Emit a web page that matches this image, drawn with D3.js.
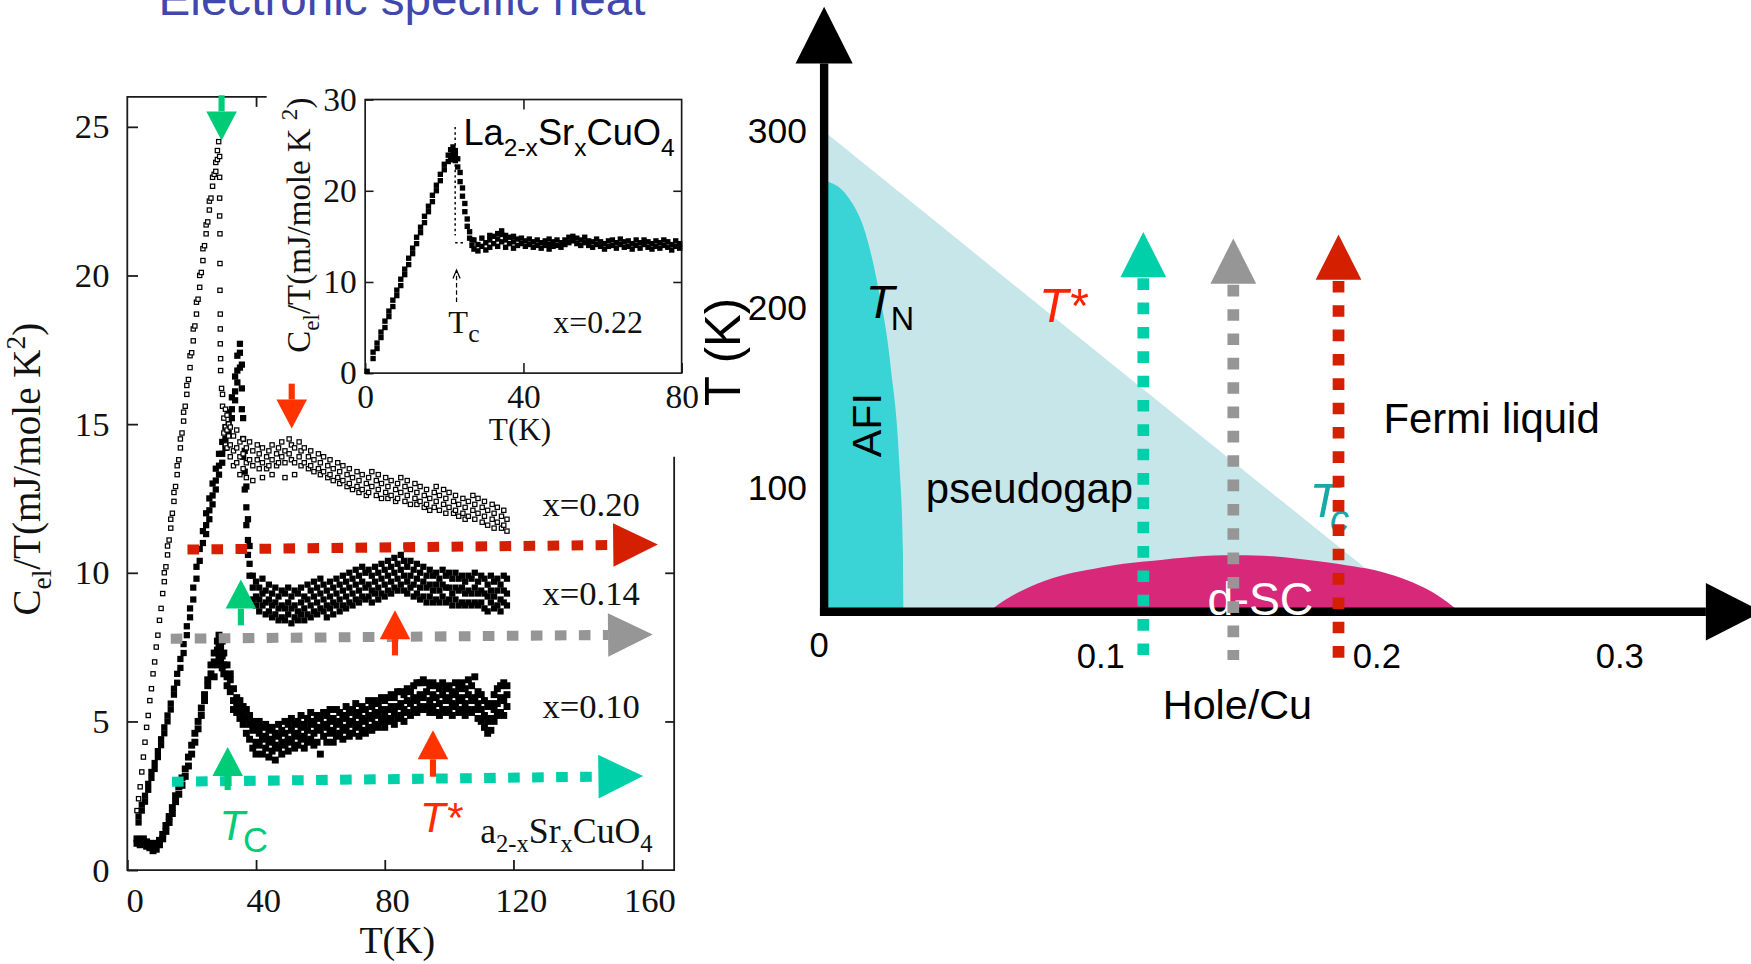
<!DOCTYPE html>
<html>
<head>
<meta charset="utf-8">
<script src="https://cdn.jsdelivr.net/npm/d3@7/dist/d3.min.js"></script>
<style>
  html, body { margin: 0; padding: 0; background: #fff; overflow: hidden; }
  svg { display: block; }
</style>
</head>
<body>
<svg id="fig"></svg>
<script>
// ---------------------------------------------------------------
// Data: electronic specific heat of La2-xSrxCuO4 and phase diagram
// Rows are [T (K), Cel/T values measured at that T ...]
// ---------------------------------------------------------------
const titleText = "Electronic specific heat";

const mainTicksT = [0, 40, 80, 120, 160];
const mainTicksC = [0, 5, 10, 15, 20, 25];
const insetTicksT = [0, 40, 80];
const insetTicksC = [0, 10, 20, 30];
const phaseTicksP = [0, 0.1, 0.2, 0.3];
const phaseTicksT = [100, 200, 300];

const dopingLabels = ["x=0.20", "x=0.14", "x=0.10"];
const dopingLabelC = [11.9, 8.9, 5.1];

// x = 0.10 (filled squares)
const x010Rows = [
[3,1.05,0.9],[4,1.0,0.85],[5,0.95,1.05],[6,0.8,0.95],[7,0.75,0.9],[8,0.65,0.8],[9,0.7,0.9],[10,0.85,1.0],
[11,1.05,1.2],[12,1.3,1.5],[13,1.6,1.8],[14,1.9,2.1],[15,2.3,2.5],[16,2.55,2.8],[17,2.85,3.1],[18,3.15,3.4],
[19,3.5,3.8],[20,3.9,4.2],[21,4.3,4.6],[22,4.75,5.0],[23,5.2,5.45],[24,5.7,5.9],[25,6.2,6.4],[26,6.6,6.9],
[27,7.0,7.3,6.5],[28,7.4,7.7,6.9],[28.5,7.6,7.9,7.2],[29,7.8,7.5,7.0],[29.5,7.7,7.2,6.8],[30,7.3,6.9,6.6],
[31,6.9,6.5,6.2],[32,6.4,6.0,6.6],[33,6.1,5.7,5.4],[34,5.8,5.3,5.6],[35,5.5,5.1,5.7],[36,5.3,4.9,5.5],
[37,5.1,4.6,5.4],[38,4.9,4.4,5.2],[39,4.7,4.1,5.0],[40,4.8,4.3,3.9],[41,4.6,4.2,5.0],[42,4.4,3.9,4.8],
[43,4.5,4.1,4.9],[44,4.3,3.8,4.7],[45,4.4,4.0,4.8],[46,4.2,3.7,4.6],[47,4.5,4.1,4.9],[48,4.3,3.9,4.7],
[49,4.6,4.2,5.0],[50,4.4,4.0,4.9],[51,4.7,4.3,5.1],[52,4.5,4.1,4.9],[53,4.6,4.2,5.0],[54,4.8,4.4,5.2],
[55,4.5,4.1,4.9],[56,4.7,4.3,5.1],[57,4.9,4.4,5.3],[58,4.6,4.2,5.0],[59,4.8,4.3,5.2],[60,4.7,3.9,5.1],
[61,4.9,4.5,5.3],[62,4.8,4.3,5.2],[63,5.0,4.6,5.4],[64,4.7,4.3,5.1],[65,4.9,4.5,5.4],[66,5.0,4.6,5.3],
[67,4.8,4.4,5.2],[68,5.1,4.7,5.5],[69,4.9,4.5,5.3],[70,5.0,4.6,5.4],[71,5.2,4.8,5.6],[72,4.9,4.5,5.3],
[73,5.1,4.7,5.5],[74,5.0,4.6,5.4],[75,5.2,4.8,5.7],[76,5.1,4.7,5.5],[77,5.3,4.9,5.7],[78,5.2,4.8,5.6],
[79,5.4,5.0,5.8],[80,5.2,4.8,5.7],[81,5.4,5.0,5.8],[82,5.5,5.1,5.9],[83,5.3,4.9,5.8],[84,5.5,5.1,6.0],
[85,5.6,5.2,6.0],[86,5.4,5.0,5.9],[87,5.7,5.3,6.1],[88,5.6,5.2,6.0],[89,5.8,5.4,6.2],[90,5.7,5.3,6.3],
[91,5.9,5.5,6.3],[92,5.8,5.4,6.4],[93,6.0,5.5,6.3],[94,5.7,5.3,6.2],[95,5.9,5.5,6.3],[96,5.8,5.3,6.2],
[97,5.6,5.2,6.1],[98,5.9,5.4,6.3],[99,5.7,5.3,6.1],[100,5.8,5.4,6.2],[101,5.6,5.2,6.0],[102,5.9,5.5,6.3],
[103,5.7,5.3,6.1],[104,5.8,5.4,6.3],[105,5.6,5.2,6.1],[106,5.9,5.4,6.4],[107,5.7,5.3,6.2],[108,5.8,5.4,6.5],
[109,5.6,5.1,6.0],[110,5.4,5.0,5.9],[111,5.2,4.8,5.7],[112,5.0,4.6,5.5],[113,5.1,4.7,5.6],[114,5.4,5.0,5.9],
[115,5.6,5.2,6.1],[116,5.8,5.3,6.2],[117,5.7,5.2,6.3],[118,5.9,5.5,6.2]
];

// x = 0.14 (filled squares)
const x014Rows = [
[3.5,1.6,1.8],[4.5,2.0,2.2],[5.5,2.3,2.5],[6.5,2.7,2.9],[7.5,3.1,3.3],[8.5,3.4,3.6],[9.5,3.8,4.0],
[10.5,4.2,4.4],[11.5,4.6,4.8],[12.5,5.0,5.2],[13.5,5.4,5.6],[14.5,5.9,6.1],[15.5,6.3,6.6],[16.5,6.8,7.1],
[17.5,7.3,7.6],[18.5,7.9,8.2],[19.5,8.5,8.8],[20.5,9.1,9.5],[21.5,9.8,10.2],[22.5,10.4,10.8],[23.5,11.0,11.4],
[24.5,11.6,12.0,11.3],[25.5,12.1,12.5,11.8],[26.5,12.6,13.0,12.3],[27.5,13.1,13.5,12.8],[28.5,13.6,14.0,13.3],
[29.5,14.0,14.4,13.7],[30.5,14.5,14.9,14.2],[31.5,15.0,15.4,14.7],[32.5,15.5,15.9,15.2],[33.5,16.1,16.6,15.8],
[34.2,16.8,17.3,16.4],[35,17.4,17.7,16.9],[35.6,17.0,16.2,15.5],[36.0,15.2,14.5,13.9],[36.5,14.1,13.4,12.8],
[37.0,12.9,12.2,11.6],[37.5,11.8,11.1,10.6],[38.0,10.9,10.3,9.9],
[39,9.9,9.5,9.1],[40,9.7,9.2,8.9],[41,9.5,9.1,8.7],[42,9.8,9.3,8.9],[43,9.4,9.0,8.6],[44,9.6,9.1,8.7],
[45,9.3,8.9,8.5],[46,9.5,9.0,8.6],[47,9.2,8.8,8.4],[48,9.4,8.9,8.5],[49,9.3,8.8,8.4],[50,9.5,9.0,8.6],
[51,9.2,8.8,8.3],[52,9.4,8.9,8.5],[53,9.3,8.7,8.4],[54,9.5,9.0,8.6],[55,9.2,8.8,8.4],[56,9.6,9.1,8.6],
[57,9.4,8.9,8.5],[58,9.7,9.2,8.7],[59,9.5,9.0,8.6],[60,9.8,9.3,8.8],[61,9.6,9.1,8.7],[62,9.4,8.9,8.5],
[63,9.7,9.2,8.8],[64,9.5,9.0,8.6],[65,9.8,9.3,8.9],[66,9.6,9.1,8.7],[67,9.9,9.4,8.9],[68,9.7,9.2,8.8],
[69,10.0,9.5,9.0],[70,9.8,9.3,8.9],[71,10.1,9.6,9.1],[72,9.9,9.4,9.0],[73,10.2,9.7,9.2],[74,10.0,9.5,9.1],
[75,10.1,9.6,9.2],[76,9.9,9.4,9.0],[77,10.2,9.7,9.3],[78,10.0,9.5,9.1],[79,10.3,9.8,9.3],[80,10.1,9.6,9.2],
[81,10.4,9.9,9.4],[82,10.2,9.7,9.3],[83,10.5,10.0,9.5],[84,10.3,9.8,9.4],[85,10.6,10.1,9.6],[86,10.4,9.9,9.4],
[86.8,10.9],[87,10.2,9.7,9.3],[88,10.4,9.9,9.5],[89,10.1,9.6,9.2],[90,10.3,9.8,9.3],[91,10.0,9.5,9.1],
[92,10.2,9.7,9.2],[93,9.9,9.5,9.0],[94,10.1,9.6,9.2],[95,9.9,9.4,9.0],[96,10.0,9.6,9.1],[97,9.8,9.4,9.0],
[98,10.1,9.6,9.2],[99,9.9,9.5,9.0],[100,10.0,9.5,9.1],[101,9.8,9.3,8.9],[102,10.0,9.5,9.1],[103,9.8,9.4,8.9],
[104,9.9,9.5,9.0],[105,9.7,9.3,8.9],[106,9.9,9.4,9.0],[107,9.8,9.3,8.9],[108,10.0,9.5,9.0],[109,9.7,9.3,8.9],
[110,9.9,9.4,9.0],[111,9.8,9.3,8.8],[112,9.6,9.2,8.7],[113,9.9,9.4,9.0],[114,9.7,9.2,8.8],[115,9.8,9.4,8.9],
[116,9.6,9.1,8.7],[117,9.9,9.4,9.0],[118,9.8,9.3,8.9]
];

// x = 0.20 (open squares)
const x020Rows = [
[3,2.0],[3.5,2.4],[4,2.8],[4.5,3.3],[5,3.8],[5.5,4.3],[6,4.8],[6.5,5.2],[7,5.7],[7.5,6.1],[8,6.6],[8.5,7.0],
[9,7.5],[9.5,7.9],[10,8.4],[10.5,8.8],[11,9.3],[11.5,9.7,10.0],[12,10.2],[12.5,10.6,10.9],[13,11.1],
[13.5,11.5,11.8],[14,12.0],[14.5,12.4,12.7],[15,12.9],[15.5,13.3,13.6],[16,13.8],[16.5,14.2,14.5],[17,14.7],
[17.5,15.1,15.4],[18,15.6],[18.5,16.0,16.3],[19,16.5],[19.5,16.9,17.3],[20,17.4],[20.5,17.8,18.2],[21,18.3],
[21.5,18.7,19.1],[22,19.2],[22.5,19.6,20.0],[23,20.1],[23.5,20.5,20.9],[24,21.0],[24.5,21.4,21.7],[25,21.8],
[25.5,22.2,22.5],[26,22.6],[26.5,23.0,23.3],[27,23.4],[27.5,23.8,23.5],[28,24.2,23.9],[28.4,24.5],
[28.7,24.0,23.3,22.6,22.0],[28.8,21.4,20.4,19.5],[28.9,18.7,18.2,17.7],[29.0,17.2,16.8],[29.3,16.2],
[29.6,15.6,16.0],[30,15.2,14.7],[30.5,15.5,14.9,14.3],[31,14.8,15.3,14.2],[31.5,14.6,15.0],[32,14.9,14.3,13.9],
[33,14.6,14.1,13.6],[34,14.8,14.2,13.7],[35,14.4,13.9,13.3],[36,14.5,14.0,13.5],[37,14.2,13.7,13.2],[38,14.4,13.8],
[39,14.1,13.6,13.1],[40.4,14.3,13.8],[41,14.0,13.5],[42,14.2,13.7,13.2],[43.3,13.9,13.5],[44,14.1,13.6],
[45,14.3,13.8,13.3],[46.4,14.0,13.6],[47,14.2,13.7],[48,14.4,13.9],[49,14.1,13.7,13.2],[50.3,14.5,14.0],
[51,14.3,13.8],[52,14.2,13.7,13.3],[53.4,14.4,13.9],[54,14.1,13.6],[55,14.2,13.7],[56.3,13.9,13.5],[57,14.1,13.6],
[58,13.8,13.4],[59.4,14.0,13.5],[60,13.7,13.3],[61,13.9,13.4],[62.3,13.6,13.2],[63,13.8,13.3],[64,13.5,13.1],
[65.4,13.7,13.2],[66,13.4,13.0],[67,13.6,13.1],[68.3,13.3,12.9],[69,13.5,13.0],[70,13.2,12.8],[71.4,13.4,12.9],
[72,13.1,12.7],[73,13.3,12.8],[74.3,13.0,12.6],[75,13.2,12.7],[76,13.4,12.9],[77.4,13.1,12.6],[78,13.3,12.8],
[79,13.0,12.5],[80.3,13.2,12.7],[81,12.9,12.5],[82,13.1,12.6],[83.4,12.8,12.4],[84,13.0,12.5],[85,13.2,12.7],
[86.3,12.9,12.4],[87,13.1,12.6],[88,12.8,12.3],[89.4,13.0,12.5],[90,12.7,12.3],[91,12.9,12.4],[92.3,12.6,12.2],
[93,12.8,12.3],[94,12.5,12.1],[95.4,12.7,12.2],[96,12.9,12.4],[97,12.6,12.1],[98.3,12.8,12.3],[99,12.5,12.0],
[100,12.7,12.2],[101.4,12.4,12.0],[102,12.6,12.1],[103,12.3,11.9],[104.3,12.5,12.0],[105,12.2,11.8],[106,12.4,11.9],
[107.4,12.6,12.1],[108,12.3,11.8],[109,12.5,12.0],[110.3,12.2,11.7],[111,12.4,11.9],[112,12.1,11.6],[113.4,12.3,11.8],
[114,12.0,11.5],[115,12.2,11.7],[116.3,11.9,11.5],[117,12.1,11.6],[118,11.8,11.4]
];

// x = 0.22 (inset, filled squares)
const x022Rows = [
[0.5,0.2],[2,1.6,2.3],[3,2.7,3.3],[4,3.9,4.5],[5,5.0,5.7],[6,6.2,6.8],[7,7.3,8.0],[8,8.5,9.1],[9,9.6,10.3],
[10,10.8,11.4],[11,11.9,12.6],[12,13.1,13.7],[13,14.2,14.9],[14,15.4,16.0],[15,16.5,17.2],[16,17.7,18.3],
[17,18.8,19.5],[18,20.0,20.6],[19,21.1,21.8],[20,22.3,22.9],[21,23.2,23.9],[21.6,23.7,24.5],[22.2,24.0,24.8,23.4],
[22.8,23.9,24.4,23.3],[23.4,22.6,23.5],[24.0,21.0,22.0],[24.6,19.4,20.3],[25.2,17.7,18.6],[25.8,16.1,16.9],
[26.4,14.8,15.5],[27,14.0,14.6],
[27.5,13.6,14.6],[28.5,14.1,13.4],[29.5,14.8,13.9],[30.5,14.3,13.5],[31.5,14.6,13.8,15.1],[32.5,14.2,15.0],
[33.5,14.7,15.3,13.9],[34.5,15.2,14.4,15.6],[35.5,14.6,15.1,13.8],[36.5,14.9,14.2],[37.5,14.4,15.0,13.7],
[38.5,14.7,14.0],[39.5,14.2,14.8],[40.5,14.5,13.9],[41.5,14.1,14.7],[42.5,14.4,13.8],[43.5,14.0,14.6],
[44.5,14.3,13.7],[45.5,14.5,14.0],[46.5,14.1,14.7,13.6],[47.5,14.4,13.9],[48.5,14.0,14.6],[49.5,14.3,13.8],
[50.5,14.6,14.1],[51.5,14.9,14.3],[52.5,14.5,15.0],[53.5,14.2,14.8],[54.5,14.6,14.0],[55.5,14.3,14.9],
[56.5,14.0,14.5],[57.5,14.4,13.8],[58.5,14.1,14.7],[59.5,13.9,14.4],[60.5,14.2,13.6],[61.5,14.5,13.9],
[62.5,14.0,14.6],[63.5,13.7,14.3],[64.5,14.1,14.7],[65.5,14.4,13.8],[66.5,13.9,14.5],[67.5,14.2,13.6],
[68.5,14.0,14.6],[69.5,13.7,14.3],[70.5,14.1,14.6],[71.5,13.8,14.4],[72.5,14.2,13.6],[73.5,13.9,14.5],
[74.5,14.3,13.7],[75.5,14.0,14.6],[76.5,13.8,14.4],[77.5,14.1,13.5],[78.5,13.9,14.5],[79.5,13.7,14.2]
];

// Guide arrows on the Cel/T panel: [T, C] at start and at tip
const guideRed  = { start: [18.7, 10.78], tip: [164.9, 10.95] };
const guideGrey = { start: [13.5, 7.78],  tip: [163.3, 7.92] };
const guideTeal = { start: [13.9, 2.97],  tip: [160.3, 3.16] };
// Markers for Tc (green) and T* (red): T, tail C, tip C
const tcMarks    = [ { T: 29.3, tail: 26.06, tip: 24.54 }, { T: 35.3, tail: 8.23, tip: 9.77 }, { T: 31.2, tail: 2.69, tip: 4.14 } ];
const tStarMarks = [ { T: 51.1, tail: 16.36, tip: 14.85 }, { T: 83.2, tail: 7.22, tip: 8.74 }, { T: 95.0, tail: 3.14, tip: 4.70 } ];

// Inset: idealised jump and Tc pointer
const insetJump  = { T: 22.75, top: 27.0, bottom: 15.1, footEnd: 25.0, footC: 14.3 };
const insetTcPtr = { T: 23.1, tail: 7.8, tip: 11.3 };

// Phase diagram boundaries: [hole/Cu, T (K)]
const tStarLine = [[0, 300], [0.079, 200], [0.160, 100], [0.2, 27.7], [0.2174, 0]];
const afiBoundary = [[0, 272], [0.0015, 271.4], [0.0086, 262.9], [0.0150, 242.1], [0.0193, 213.8],
                     [0.0241, 167.2], [0.0273, 111.8], [0.0285, 51.8], [0.0287, 0]];
const scDome = [[0.0599, 0], [0.0655, 9], [0.0744, 19.6], [0.0857, 28.6], [0.0952, 33.3], [0.106, 37.7],
                [0.116, 40.2], [0.130, 43.4], [0.1448, 45.3], [0.1626, 44.5], [0.1784, 40.6], [0.189, 37.2],
                [0.1992, 33.3], [0.2103, 26.8], [0.2195, 19.1], [0.2273, 10], [0.2338, 0]];
// Vertical cuts at fixed doping: p, tip T, tail T
const dopingCuts = [
  { p: 0.1156, tip: 243.0, tail: -36, color: "#00d0aa" },
  { p: 0.1482, tip: 239.3, tail: -40, color: "#969696" },
  { p: 0.1863, tip: 241.5, tail: -38, color: "#d42000" }
];

// ---------------------------------------------------------------
// Drawing
// ---------------------------------------------------------------
const W = 1568, H = 863;
const SERIF = "'Liberation Serif','Times New Roman',Times,serif";
const SANS = "'Liberation Sans',Arial,Helvetica,sans-serif";
const INK = "#1a1a1a";

const svg = d3.select("#fig")
  .attr("width", 1751).attr("height", 964)
  .attr("viewBox", `0 0 ${W} ${H}`);
svg.append("rect").attr("width", W).attr("height", H).attr("fill", "#fff");

const flatten = rows => rows.flatMap(([t, ...cs]) => cs.map(c => [t, c]));

// rich text helper (sub/superscripts, italics)
function rich(textSel, parts, size) {
  let cur = 0;
  parts.forEach(p => {
    const shift = p.sub ? (p.shift ?? 0.28) * size : p.sup ? -0.38 * size : 0;
    const ts = textSel.append("tspan")
      .attr("dy", shift - cur)
      .attr("font-size", p.size ?? ((p.sub || p.sup) ? size * 0.7 : size))
      .text(p.t);
    if (p.italic) ts.attr("font-style", "italic");
    if (p.x !== undefined) ts.attr("x", p.x);
    cur = shift;
  });
  return textSel;
}

function styleAxis(g, font, size) {
  g.attr("font-family", font).attr("font-size", size);
  g.select(".domain").remove();
  g.selectAll(".tick line").attr("stroke", INK).attr("stroke-width", 1.6);
  g.selectAll(".tick text").attr("fill", "#111");
  return g;
}

// title
svg.append("text")
  .attr("x", 142).attr("y", 13.5)
  .attr("font-family", SANS).attr("font-size", 42)
  .attr("fill", "#4047ad")
  .attr("textLength", 436).attr("lengthAdjust", "spacingAndGlyphs")
  .text(titleText);

// ================= left: Cel/T vs T =================
const xT = d3.scaleLinear().domain([0, 160]).range([114, 575]);
const yC = d3.scaleLinear().domain([0, 25]).range([779, 113.4]);
const frameRight = 603.7, frameTop = 86.6, frameTopEnd = 238.8, frameRightStart = 409;

const gMain = svg.append("g");
gMain.append("path")
  .attr("d", `M${frameTopEnd},${frameTop}H${xT(0)}V${yC(0)}H${frameRight}V${frameRightStart}`)
  .attr("fill", "none").attr("stroke", INK).attr("stroke-width", 1.6);

styleAxis(gMain.append("g").attr("transform", `translate(${xT(0)},0)`)
  .call(d3.axisLeft(yC).tickValues(mainTicksC).tickSize(-9.6).tickPadding(16).tickFormat(d3.format("d"))), SERIF, 31);
styleAxis(gMain.append("g").attr("transform", `translate(0,${yC(0)})`)
  .call(d3.axisBottom(xT).tickValues(mainTicksT).tickSize(-9).tickPadding(15.5).tickFormat(d3.format("d"))), SERIF, 31)
  .selectAll(".tick text").attr("x", 6.5);
styleAxis(gMain.append("g").attr("transform", `translate(0,${frameTop})`)
  .call(d3.axisTop(xT).tickValues(mainTicksT.filter(t => t > 0 && xT(t) < frameTopEnd)).tickSize(-9).tickFormat("")), SERIF, 31);
styleAxis(gMain.append("g").attr("transform", `translate(${frameRight},0)`)
  .call(d3.axisRight(yC).tickValues(mainTicksC.filter(c => c > 0 && yC(c) > frameRightStart)).tickSize(-8).tickFormat("")), SERIF, 31);

// axis titles
rich(gMain.append("text")
  .attr("transform", "translate(36,420) rotate(-90)")
  .attr("text-anchor", "middle").attr("font-family", SERIF).attr("font-size", 35).attr("fill", "#111"),
  [{ t: "C" }, { t: "el", sub: true }, { t: "/T(mJ/mole K" }, { t: "2", sup: true }, { t: ")" }], 35);
gMain.append("text").attr("x", 355.8).attr("y", 853.7)
  .attr("text-anchor", "middle").attr("font-family", SERIF).attr("font-size", 34).attr("fill", "#111")
  .text("T(K)");

// data
const gData = gMain.append("g");
const sqFilled = (g, pts, s) => g.selectAll(null).data(pts).join("rect")
  .attr("x", d => xT(d[0]) - s / 2).attr("y", d => yC(d[1]) - s / 2)
  .attr("width", s).attr("height", s).attr("fill", "#000");
sqFilled(gData.append("g"), flatten(x010Rows), 6.2);
sqFilled(gData.append("g"), flatten(x014Rows), 5.6);
gData.append("g").selectAll(null).data(flatten(x020Rows)).join("rect")
  .attr("x", d => xT(d[0]) - 1.9).attr("y", d => yC(d[1]) - 1.9)
  .attr("width", 3.8).attr("height", 3.8)
  .attr("fill", "#fff").attr("stroke", "#000").attr("stroke-width", 1.1);

// doping labels
gMain.append("g").selectAll(null).data(dopingLabels).join("text")
  .attr("x", 573).attr("y", (d, i) => yC(dopingLabelC[i]))
  .attr("text-anchor", "end").attr("font-family", SERIF).attr("font-size", 31).attr("fill", "#111")
  .text(d => d);

// horizontal dashed guide arrows
function hGuide(g, a, color) {
  const x0 = xT(a.start[0]), y0 = yC(a.start[1]);
  const x1 = xT(a.tip[0]), y1 = yC(a.tip[1]);
  const len = Math.hypot(x1 - x0, y1 - y0), ux = (x1 - x0) / len, uy = (y1 - y0) / len;
  const hl = 40, hw = 19.5;
  const bx = x1 - ux * hl, by = y1 - uy * hl;
  g.append("line").attr("x1", x0).attr("y1", y0).attr("x2", bx).attr("y2", by)
    .attr("stroke", color).attr("stroke-width", 9).attr("stroke-dasharray", "10.4 11.1");
  g.append("path")
    .attr("d", `M${bx - uy * hw},${by + ux * hw}L${x1},${y1}L${bx + uy * hw},${by - ux * hw}Z`)
    .attr("fill", color);
}
const gGuides = gMain.append("g");
hGuide(gGuides, guideRed, "#d42000");
hGuide(gGuides, guideGrey, "#969696");
hGuide(gGuides, guideTeal, "#00d0aa");

// small vertical markers
function vMark(g, m, color) {
  const x = xT(m.T), yt = yC(m.tail), yp = yC(m.tip);
  const dir = Math.sign(yp - yt);
  const hl = 26, hw = 13.7, sw = 5.5;
  const yb = yp - dir * hl;
  g.append("rect").attr("x", x - sw / 2).attr("y", Math.min(yt, yb)).attr("width", sw)
    .attr("height", Math.abs(yb - yt)).attr("fill", color);
  g.append("path").attr("d", `M${x - hw},${yb}L${x},${yp}L${x + hw},${yb}Z`).attr("fill", color);
}
tcMarks.forEach(m => vMark(gGuides, m, "#00cc77"));
tStarMarks.forEach(m => vMark(gGuides, m, "#ff3300"));

// annotations
rich(gMain.append("text").attr("x", 196.5).attr("y", 752.2)
  .attr("font-family", SANS).attr("fill", "#00cc77"),
  [{ t: "T", italic: true }, { t: "C", sub: true, shift: 0.28, size: 31, x: 217.5 }], 37.5);
gMain.append("text").attr("x", 376).attr("y", 744.8)
  .attr("font-family", SANS).attr("font-size", 37.5).attr("font-style", "italic").attr("fill", "#ff2a00")
  .text("T*");
rich(gMain.append("text").attr("x", 430).attr("y", 755.2)
  .attr("font-family", SERIF).attr("fill", "#111"),
  [{ t: "a" }, { t: "2-x", sub: true, shift: 0.24, size: 22 }, { t: "Sr" },
   { t: "x", sub: true, shift: 0.24, size: 22 }, { t: "CuO" }, { t: "4", sub: true, shift: 0.24, size: 22 }], 32);

// ================= inset =================
const xI = d3.scaleLinear().domain([0, 80]).range([327, 610.4]);
const yI = d3.scaleLinear().domain([0, 30]).range([334, 89]);
const gIn = svg.append("g");
gIn.append("rect").attr("x", xI(0)).attr("y", yI(30)).attr("width", xI(80) - xI(0)).attr("height", yI(0) - yI(30))
  .attr("fill", "none").attr("stroke", INK).attr("stroke-width", 1.5);
styleAxis(gIn.append("g").attr("transform", `translate(${xI(0)},0)`)
  .call(d3.axisLeft(yI).tickValues(insetTicksC).tickSize(-7.5).tickPadding(7.5).tickFormat(d3.format("d"))), SERIF, 30);
styleAxis(gIn.append("g").attr("transform", `translate(${xI(80)},0)`)
  .call(d3.axisRight(yI).tickValues(insetTicksC.slice(1, -1)).tickSize(-7.5).tickFormat("")), SERIF, 30);
styleAxis(gIn.append("g").attr("transform", `translate(0,${yI(0)})`)
  .call(d3.axisBottom(xI).tickValues(insetTicksT).tickSize(-9).tickPadding(9.5).tickFormat(d3.format("d"))), SERIF, 30);
styleAxis(gIn.append("g").attr("transform", `translate(0,${yI(30)})`)
  .call(d3.axisTop(xI).tickValues(insetTicksT.slice(1, -1)).tickSize(-9).tickFormat("")), SERIF, 30);
gIn.selectAll(".tick line").attr("stroke-width", 1.4);

gIn.append("text").attr("x", 465.7).attr("y", 393.5)
  .attr("text-anchor", "middle").attr("font-family", SERIF).attr("font-size", 28).attr("fill", "#111")
  .text("T(K)");
rich(gIn.append("text")
  .attr("transform", "translate(277.5,201.5) rotate(-90)")
  .attr("text-anchor", "middle").attr("font-family", SERIF).attr("font-size", 29.5).attr("fill", "#111"),
  [{ t: "C" }, { t: "el", sub: true }, { t: "/T(mJ/mole K " }, { t: "2", sup: true }, { t: ")" }], 29.5);

gIn.append("g").selectAll(null).data(flatten(x022Rows)).join("rect")
  .attr("x", d => xI(d[0]) - 2.4).attr("y", d => yI(d[1]) - 2.4)
  .attr("width", 4.8).attr("height", 4.8).attr("fill", "#000");

// idealised jump (dotted)
gIn.append("path")
  .attr("d", `M${xI(insetJump.T)},${yI(insetJump.top)}V${yI(insetJump.bottom)}`
           + `M${xI(insetJump.T)},${yI(insetJump.footC)}H${xI(insetJump.footEnd)}`)
  .attr("fill", "none").attr("stroke", "#000").attr("stroke-width", 1.3).attr("stroke-dasharray", "2.2 2.6");
// Tc pointer
{
  const x = xI(insetTcPtr.T), yt = yI(insetTcPtr.tail), yp = yI(insetTcPtr.tip);
  gIn.append("line").attr("x1", x).attr("x2", x).attr("y1", yt).attr("y2", yp)
    .attr("stroke", "#000").attr("stroke-width", 1.1).attr("stroke-dasharray", "4 2.5");
  gIn.append("path").attr("d", `M${x - 3.2},${yp + 7.5}L${x},${yp}L${x + 3.2},${yp + 7.5}`)
    .attr("fill", "none").attr("stroke", "#000").attr("stroke-width", 1.1);
}
rich(gIn.append("text").attr("x", 401.5).attr("y", 298.5).attr("font-family", SERIF).attr("fill", "#111"),
  [{ t: "T" }, { t: "c", sub: true, shift: 0.26, size: 23 }], 29);
gIn.append("text").attr("x", 495.5).attr("y", 298.5)
  .attr("font-family", SERIF).attr("font-size", 28.5).attr("fill", "#111").text("x=0.22");
rich(gIn.append("text").attr("x", 415).attr("y", 129.8).attr("font-family", SANS).attr("fill", "#000"),
  [{ t: "La" }, { t: "2-x", sub: true, shift: 0.3, size: 22 }, { t: "Sr" },
   { t: "x", sub: true, shift: 0.3, size: 22 }, { t: "CuO" }, { t: "4", sub: true, shift: 0.3, size: 22 }], 32.5);

// ================= right: phase diagram =================
const xP = d3.scaleLinear().domain([0, 0.2, 0.3]).range([738, 1232.5, 1450]);
const yP = d3.scaleLinear().domain([0, 100, 200, 300]).range([547, 437, 275.5, 117.5]);
const gPh = svg.append("g");

const areaP = curve => d3.area().x(d => xP(d[0])).y0(yP(0)).y1(d => yP(d[1])).curve(curve);
gPh.append("path").datum(tStarLine).attr("d", areaP(d3.curveLinear)).attr("fill", "#c6e6ea");
gPh.append("path").datum(afiBoundary).attr("d", areaP(d3.curveMonotoneX)).attr("fill", "#3ad4d6");
gPh.append("path").datum(scDome).attr("d", areaP(d3.curveCatmullRom.alpha(0.5))).attr("fill", "#d8287a");

// axes with arrowheads
const axW = 7.5;
gPh.append("line").attr("x1", xP(0)).attr("x2", xP(0)).attr("y1", yP(0) + axW / 2 + 0.5).attr("y2", 56.7)
  .attr("stroke", "#000").attr("stroke-width", axW);
gPh.append("path").attr("d", `M${xP(0) - 25.6},56.7L${xP(0)},6L${xP(0) + 25.6},56.7Z`).attr("fill", "#000");
gPh.append("line").attr("x1", xP(0) - axW / 2).attr("x2", 1527.6).attr("y1", yP(0) + 0.7).attr("y2", yP(0) + 0.7)
  .attr("stroke", "#000").attr("stroke-width", axW);
gPh.append("path").attr("d", `M1527.6,${yP(0) - 25}L1578,${yP(0) + 0.7}L1527.6,${yP(0) + 26.4}Z`).attr("fill", "#000");

const axYP = styleAxis(gPh.append("g").attr("transform", `translate(${xP(0)},0)`)
  .call(d3.axisLeft(yP).tickValues(phaseTicksT).tickSize(0).tickPadding(15.5)), SANS, 31.7);
axYP.selectAll(".tick text").attr("fill", "#000");
const axXP = styleAxis(gPh.append("g").attr("transform", `translate(0,${yP(0)})`)
  .call(d3.axisBottom(xP).tickValues(phaseTicksP).tickSize(0).tickPadding(29.5).tickFormat(d => `${d}`)), SANS, 31);
axXP.selectAll(".tick text").attr("fill", "#000")
  .filter(d => d === 0).attr("x", -5).attr("y", 19);

gPh.append("text").attr("transform", "translate(662.5,315) rotate(-90)")
  .attr("text-anchor", "middle").attr("font-family", SANS).attr("font-size", 44).attr("fill", "#000")
  .text("T (K)");
gPh.append("text").attr("x", 1041.3).attr("y", 643.3)
  .attr("font-family", SANS).attr("font-size", 37).attr("fill", "#000").text("Hole/Cu");

// region labels
rich(gPh.append("text").attr("x", 775.2).attr("y", 285).attr("font-family", SANS).attr("fill", "#000"),
  [{ t: "T", italic: true }, { t: "N", sub: true, shift: 0.25, size: 29, x: 797.6 }], 42);
gPh.append("text").attr("transform", "translate(788.9,380.6) rotate(-90)")
  .attr("text-anchor", "middle").attr("font-family", SANS).attr("font-size", 37).attr("fill", "#000").text("AFI");
gPh.append("text").attr("x", 930.4).attr("y", 288)
  .attr("font-family", SANS).attr("font-size", 43).attr("font-style", "italic").attr("fill", "#ff2200").text("T*");
gPh.append("text").attr("x", 829.1).attr("y", 450.7)
  .attr("font-family", SANS).attr("font-size", 37.5).attr("fill", "#000").text("pseudogap");
gPh.append("text").attr("x", 1238.8).attr("y", 388)
  .attr("font-family", SANS).attr("font-size", 37.5).attr("fill", "#000").text("Fermi liquid");
rich(gPh.append("text").attr("x", 1172.6).attr("y", 462.7).attr("font-family", SANS).attr("fill", "#18a8a8"),
  [{ t: "T", italic: true }, { t: "c", sub: true, shift: 0.31, size: 34, x: 1191, italic: true }], 43.8);
gPh.append("text").attr("x", 1081.4).attr("y", 550.7)
  .attr("font-family", SANS).attr("font-size", 41.6).attr("fill", "#fff").text("d-SC");

// dashed doping cuts with arrowheads
dopingCuts.forEach(c => {
  const x = xP(c.p), yt = yP(c.tail), yp = yP(c.tip);
  const hl = 40.5, hw = 20.5;
  const yb = yp + hl;
  gPh.append("line").attr("x1", x).attr("x2", x).attr("y1", yb + 1).attr("y2", yt)
    .attr("stroke", c.color).attr("stroke-width", 10.5).attr("stroke-dasharray", "10.4 11.4");
  gPh.append("path").attr("d", `M${x - hw},${yb}L${x},${yp}L${x + hw},${yb}Z`).attr("fill", c.color);
});
</script>
</body>
</html>
